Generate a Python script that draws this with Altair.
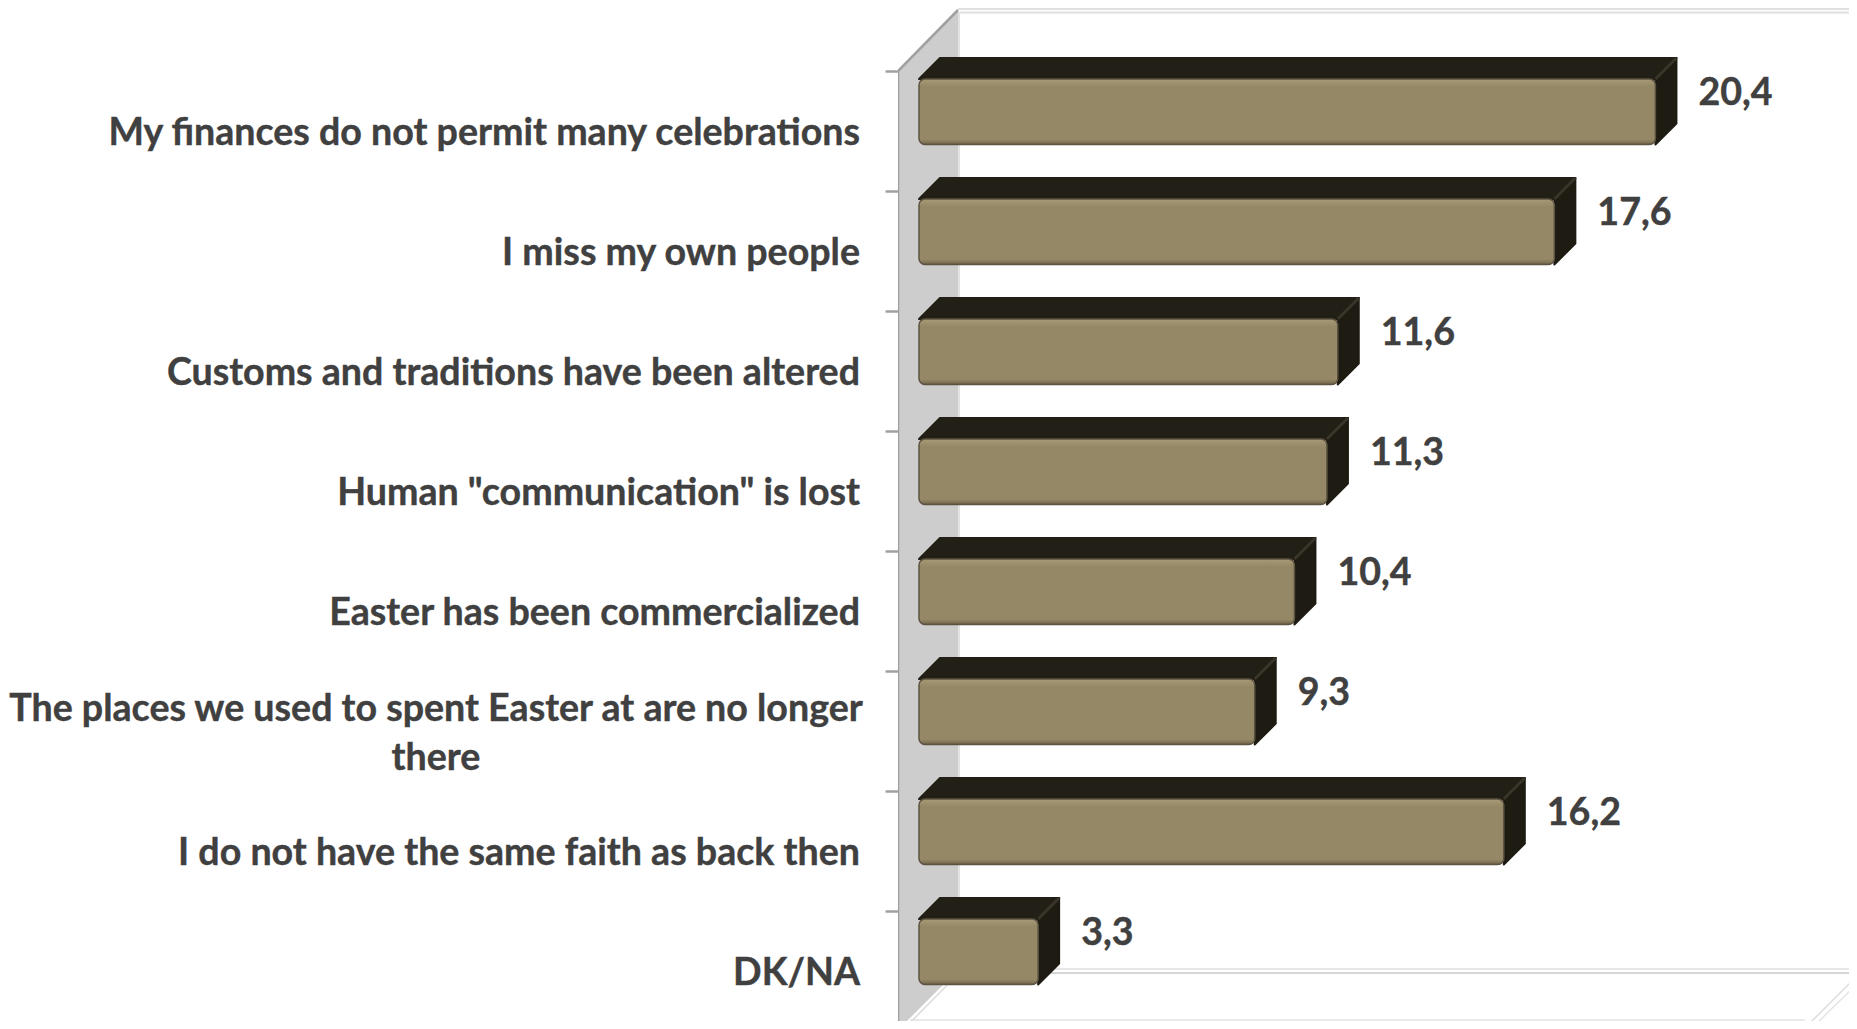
import altair as alt
import pandas as pd

# ---- chart values ----
categories = [
    "My finances do not permit many celebrations",
    "I miss my own people",
    "Customs and traditions have been altered\u00a0",
    'Human "communication" is lost',
    "Easter has been commercialized",
    "The places we used to spent Easter at are no longer\nthere",
    "I do not have the same faith as back then",
    "DK/NA",
]
values = [20.4, 17.6, 11.6, 11.3, 10.4, 9.3, 16.2, 3.3]
value_labels = ["20,4", "17,6", "11,6", "11,3", "10,4", "9,3", "16,2", "3,3"]

# ---- layout (pixels on the page) ----
PAGE_W, PAGE_H, MARGIN = 1857, 1029, 8
BOTTOM = PAGE_H - MARGIN  # the page's own bottom margin must still fit
AXIS_X = 898            # plot left edge = front wall line
ZERO_X = 919            # where value 0 sits
PX_PER_UNIT = 36.1
FIRST_TICK_Y = 71
PX_PER_ROW = 120.0
PAD_LEFT = AXIS_X - MARGIN
W = PAGE_W - AXIS_X - MARGIN
H = BOTTOM - MARGIN


def ux(px):
    return (px - ZERO_X) / PX_PER_UNIT


def uy(py):
    return (py - FIRST_TICK_Y) / PX_PER_ROW


xs = alt.Scale(domain=[ux(AXIS_X), ux(AXIS_X + W)], nice=False, zero=False)
ys = alt.Scale(domain=[uy(BOTTOM), uy(MARGIN)], nice=False, zero=False)

DX = 21 / PX_PER_UNIT
DY = 21 / PX_PER_ROW
FRONT_TOP = 8 / PX_PER_ROW
FRONT_BOT = 73.5 / PX_PER_ROW
LABEL_Y = 63 / PX_PER_ROW
VALUE_Y = 22.5 / PX_PER_ROW

Y_AXIS = alt.Axis(values=list(range(len(values))), labels=False, domain=False, grid=False,
                  ticks=True, tickSize=13, tickWidth=2.5, tickColor="#a0a0a0", title=None)
X = lambda f: alt.X(f, type="quantitative", scale=xs, axis=None, title=None)
Y = lambda f: alt.Y(f, type="quantitative", scale=ys, axis=Y_AXIS, title=None)

bars = pd.DataFrame({"row": range(len(values)), "v": values, "cat": categories, "lab": value_labels})
bars["top"] = bars.row + FRONT_TOP
bars["bot"] = bars.row + FRONT_BOT
bars["zero"] = 0.0
bars["ly"] = bars.row + LABEL_Y
bars["vy"] = bars.row + VALUE_Y
bars["vx"] = bars.v + DX
bars["bx1"] = bars.v
bars["bx2"] = bars.v + DX
bars["by1"] = bars.top
bars["by2"] = bars.top - DY

top_rows, side_rows = [], []
for r, v in enumerate(values):
    t, b = r + FRONT_TOP, r + FRONT_BOT
    top_rows += [dict(row=r, y=t, x=0.0, x2=v), dict(row=r, y=t - DY, x=DX, x2=v + DX)]
    side_rows += [dict(row=r, x=v, y=t, y2=b), dict(row=r, x=v + DX, y=t - DY, y2=b - DY)]
top_df, side_df = pd.DataFrame(top_rows), pd.DataFrame(side_rows)

# ---- room frame ----
BACK_X = 958
END_X = AXIS_X + W
wall_df = pd.DataFrame([
    dict(x=ux(AXIS_X), y=uy(71), y2=uy(1030)),
    dict(x=ux(BACK_X), y=uy(10), y2=uy(970)),
])
frame = [
    # x1, y1, x2, y2, colour, width
    (BACK_X, 9, END_X, 9, "#e0e0e0", 2),
    (BACK_X + 2, 12.5, END_X, 12.5, "#e0e0e0", 2),
    (BACK_X + 1, 12, BACK_X + 1, 970, "#e2e2e2", 2),
    (BACK_X, 969, END_X, 969, "#dedede", 1.5),
    (BACK_X, 973, END_X, 973, "#c8c8c8", 1.5),
    (910, BOTTOM - 1, 1805, BOTTOM - 1, "#e2e2e2", 1.5),
    (905, 1028, BACK_X, 974, "#dcdcdc", 1.5),
    (1805, 1028, PAGE_W, 976, "#dcdcdc", 1.5),
    (1812, 1028, PAGE_W, 984, "#e4e4e4", 1.5),
    (AXIS_X, 71, AXIS_X, BOTTOM, "#a0a0a0", 2.5),
    (AXIS_X, 71, BACK_X, 10, "#a0a0a0", 2.5),
]
frame_df = pd.DataFrame(frame, columns=["px1", "py1", "px2", "py2", "col", "w"])
frame_df["x1"] = frame_df.px1.map(ux)
frame_df["x2"] = frame_df.px2.map(ux)
frame_df["y1"] = frame_df.py1.map(uy)
frame_df["y2"] = frame_df.py2.map(uy)

wall = alt.Chart(wall_df).mark_area(color="#cdcdcd", clip=True).encode(
    x=X("x"), y=Y("y"), y2="y2",
)
frame_lines = alt.Chart(frame_df).mark_rule(clip=True).encode(
    x=X("x1"), x2="x2", y=Y("y1"), y2="y2",
    color=alt.Color("col:N", scale=None),
    strokeWidth=alt.StrokeWidth("w:Q", scale=None),
)

top_face = alt.Chart(top_df).mark_area(
    orient="horizontal", color="#221f16", stroke="#221f16", strokeWidth=2, strokeJoin="round"
).encode(x=X("x"), x2="x2", y=Y("y"), detail="row:N")
side_face = alt.Chart(side_df).mark_area(
    orient="vertical", color="#1e1b12", stroke="#1e1b12", strokeWidth=2, strokeJoin="round"
).encode(x=X("x"), y=Y("y"), y2="y2", detail="row:N")
bevel = alt.Chart(bars).mark_rule(color="#39352a", strokeWidth=3).encode(
    x=X("bx1"), x2="bx2", y=Y("by1"), y2="by2"
)

front_fill = alt.Gradient(
    gradient="linear", x1=0, x2=0, y1=0, y2=1,
    stops=[
        alt.GradientStop(offset=0, color="#a89b78"),
        alt.GradientStop(offset=0.05, color="#a0926f"),
        alt.GradientStop(offset=0.12, color="#958866"),
        alt.GradientStop(offset=0.92, color="#958866"),
        alt.GradientStop(offset=0.98, color="#7a6e52"),
        alt.GradientStop(offset=1, color="#5a5240"),
    ],
)
front = alt.Chart(bars).mark_bar(
    fill=front_fill, stroke="#5b5340", strokeWidth=1.5, cornerRadius=6
).encode(x=X("zero"), x2="v", y=Y("top"), y2="bot")

FONT = "Lato"
TXT = "#404040"
SIZE = 37.6
WEIGHT = dict(font=FONT, fontWeight="bold", fontSize=SIZE, color=TXT, stroke=TXT, strokeWidth=0.4)
single = bars[~bars.cat.str.contains("\n")]
multi = bars[bars.cat.str.contains("\n")]
cat_text = alt.Chart(single).mark_text(align="right", baseline="middle", **WEIGHT).encode(
    x=alt.value(860 - AXIS_X), y=Y("ly"), text="cat:N")
cat_text2 = alt.Chart(multi).mark_text(
    align="center", baseline="middle", lineBreak="\n", lineHeight=48.5, dy=-24, **WEIGHT
).encode(x=alt.value(436 - AXIS_X), y=Y("ly"), text="cat:N")
val_text = alt.Chart(bars).mark_text(align="left", baseline="middle", dx=22, **WEIGHT).encode(
    x=X("vx"), y=Y("vy"), text="lab:N")

chart = alt.layer(
    wall, frame_lines, top_face, side_face, bevel, front, cat_text, cat_text2, val_text
).properties(
    width=W, height=H,
    padding={"left": PAD_LEFT, "right": 0, "top": 0, "bottom": 0},
    autosize=alt.AutoSizeParams(type="none"),
    background="white",
).configure_view(stroke=None)

chart.save("out.html", embed_options={"renderer": "svg", "actions": False})
